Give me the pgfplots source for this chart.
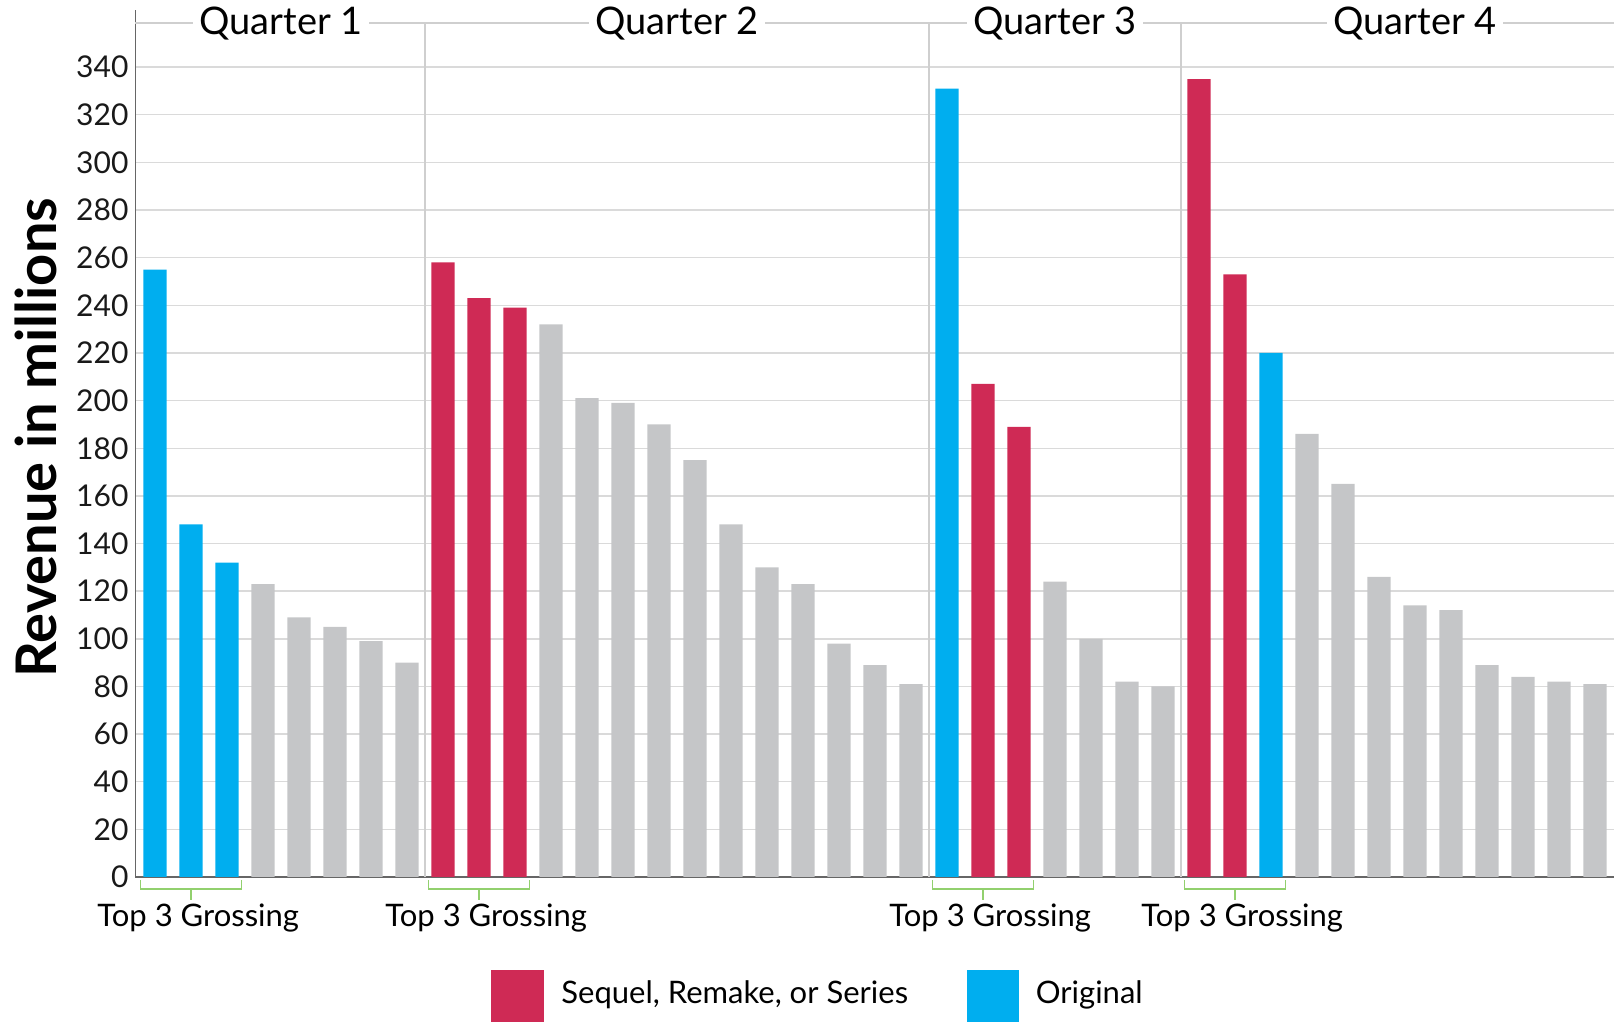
\documentclass[border=0pt]{standalone}
\usepackage{fontspec}
\setmainfont{Lato}
\usepackage{pgfplots}
\pgfplotsset{compat=1.18}
\definecolor{cred}{HTML}{CF2A55}
\definecolor{cblue}{HTML}{00AEEF}
\definecolor{cgray}{HTML}{C5C6C8}
\definecolor{gridgray}{HTML}{DADADA}
\definecolor{divgray}{HTML}{CFCFCF}
\definecolor{axisgray}{HTML}{666666}
\definecolor{cgreen}{HTML}{92D06E}
\tikzset{
  qlab/.style={fill=white, inner xsep=3pt, inner ysep=1pt, font=\fontsize{19}{23}\selectfont},
  br/.style={cgreen, line width=0.8pt},
  toplab/.style={anchor=base, font=\fontsize{15.5}{18}\selectfont, inner sep=0pt}
}
\begin{document}
\begin{tikzpicture}
\useasboundingbox (-67.75pt,-72.5pt) rectangle (739.25pt,438.5pt);
\begin{axis}[
  at={(0pt,0pt)}, anchor=south west,
  scale only axis, width=739.25pt, height=433.5pt,
  xmin=-0.5417, xmax=40.528, ymin=0, ymax=364,
  axis x line=bottom, axis y line=left,
  axis line style={-, draw=axisgray, line width=0.9pt},
  xtick=\empty,
  ytick={0,20,...,340},
  ymajorgrids, grid style={gridgray, line width=0.7pt},
  major tick length=0pt,
  yticklabel style={font=\fontsize{15}{18}\selectfont, text=black!90},
  /pgf/number format/assume math mode=true,
  clip=false,
]
% dividers and top line
\draw[divgray, line width=0.7pt] (axis cs:7.5,0) -- (axis cs:7.5,358.5);
\draw[divgray, line width=0.7pt] (axis cs:21.5,0) -- (axis cs:21.5,358.5);
\draw[divgray, line width=0.7pt] (axis cs:28.5,0) -- (axis cs:28.5,358.5);
\draw[divgray, line width=0.7pt] (axis cs:-0.5417,358.5) -- (axis cs:40.528,358.5);

\addplot[ybar, bar width=0.64, bar shift=0pt, fill=cblue, draw=none] coordinates {
(0,255) (1,148) (2,132) (22,331) (31,220)};
\addplot[ybar, bar width=0.64, bar shift=0pt, fill=cred, draw=none] coordinates {
(8,258) (9,243) (10,239) (23,207) (24,189) (29,335) (30,253)};
\addplot[ybar, bar width=0.64, bar shift=0pt, fill=cgray, draw=none] coordinates {
(3,123) (4,109) (5,105) (6,99) (7,90)
(11,232) (12,201) (13,199) (14,190) (15,175) (16,148) (17,130) (18,123) (19,98) (20,89) (21,81)
(25,124) (26,100) (27,82) (28,80)
(32,186) (33,165) (34,126) (35,114) (36,112) (37,89) (38,84) (39,82) (40,81)};

% quarter labels
\node[qlab] at (axis cs:3.5,358.5) {Quarter 1};
\node[qlab] at (axis cs:14.5,358.5) {Quarter 2};
\node[qlab] at (axis cs:25,358.5) {Quarter 3};
\node[qlab] at (axis cs:35,358.5) {Quarter 4};
% brackets
\draw[br] ([yshift=-1.5pt]axis cs:-0.4,0) -- ([yshift=-6pt]axis cs:-0.4,0) -- ([yshift=-6pt]axis cs:2.4,0) -- ([yshift=-1.5pt]axis cs:2.4,0);
\draw[br] ([yshift=-6pt]axis cs:1,0) -- ([yshift=-11.5pt]axis cs:1,0);
\node[toplab] at ([yshift=-25pt, xshift=3.6pt]axis cs:1,0) {Top 3 Grossing};
\draw[br] ([yshift=-1.5pt]axis cs:7.6,0) -- ([yshift=-6pt]axis cs:7.6,0) -- ([yshift=-6pt]axis cs:10.4,0) -- ([yshift=-1.5pt]axis cs:10.4,0);
\draw[br] ([yshift=-6pt]axis cs:9,0) -- ([yshift=-11.5pt]axis cs:9,0);
\node[toplab] at ([yshift=-25pt, xshift=3.6pt]axis cs:9,0) {Top 3 Grossing};
\draw[br] ([yshift=-1.5pt]axis cs:21.6,0) -- ([yshift=-6pt]axis cs:21.6,0) -- ([yshift=-6pt]axis cs:24.4,0) -- ([yshift=-1.5pt]axis cs:24.4,0);
\draw[br] ([yshift=-6pt]axis cs:23,0) -- ([yshift=-11.5pt]axis cs:23,0);
\node[toplab] at ([yshift=-25pt, xshift=3.6pt]axis cs:23,0) {Top 3 Grossing};
\draw[br] ([yshift=-1.5pt]axis cs:28.6,0) -- ([yshift=-6pt]axis cs:28.6,0) -- ([yshift=-6pt]axis cs:31.4,0) -- ([yshift=-1.5pt]axis cs:31.4,0);
\draw[br] ([yshift=-6pt]axis cs:30,0) -- ([yshift=-11.5pt]axis cs:30,0);
\node[toplab] at ([yshift=-25pt, xshift=3.6pt]axis cs:30,0) {Top 3 Grossing};
\end{axis}
\node[rotate=90, font=\fontsize{28}{33}\selectfont\bfseries] at (-49.75pt,219.75pt) {Revenue in millions};
% legend
\fill[cred] (177.75pt,-46.3pt) rectangle (204pt,-73pt);
\node[anchor=base west, inner sep=0pt, font=\fontsize{15.5}{18}\selectfont] at (212.75pt,-63.5pt) {Sequel, Remake, or Series};
\fill[cblue] (415.5pt,-46.3pt) rectangle (441.75pt,-73pt);
\node[anchor=base west, inner sep=0pt, font=\fontsize{15.5}{18}\selectfont] at (450pt,-63.5pt) {Original};
\end{tikzpicture}
\end{document}
